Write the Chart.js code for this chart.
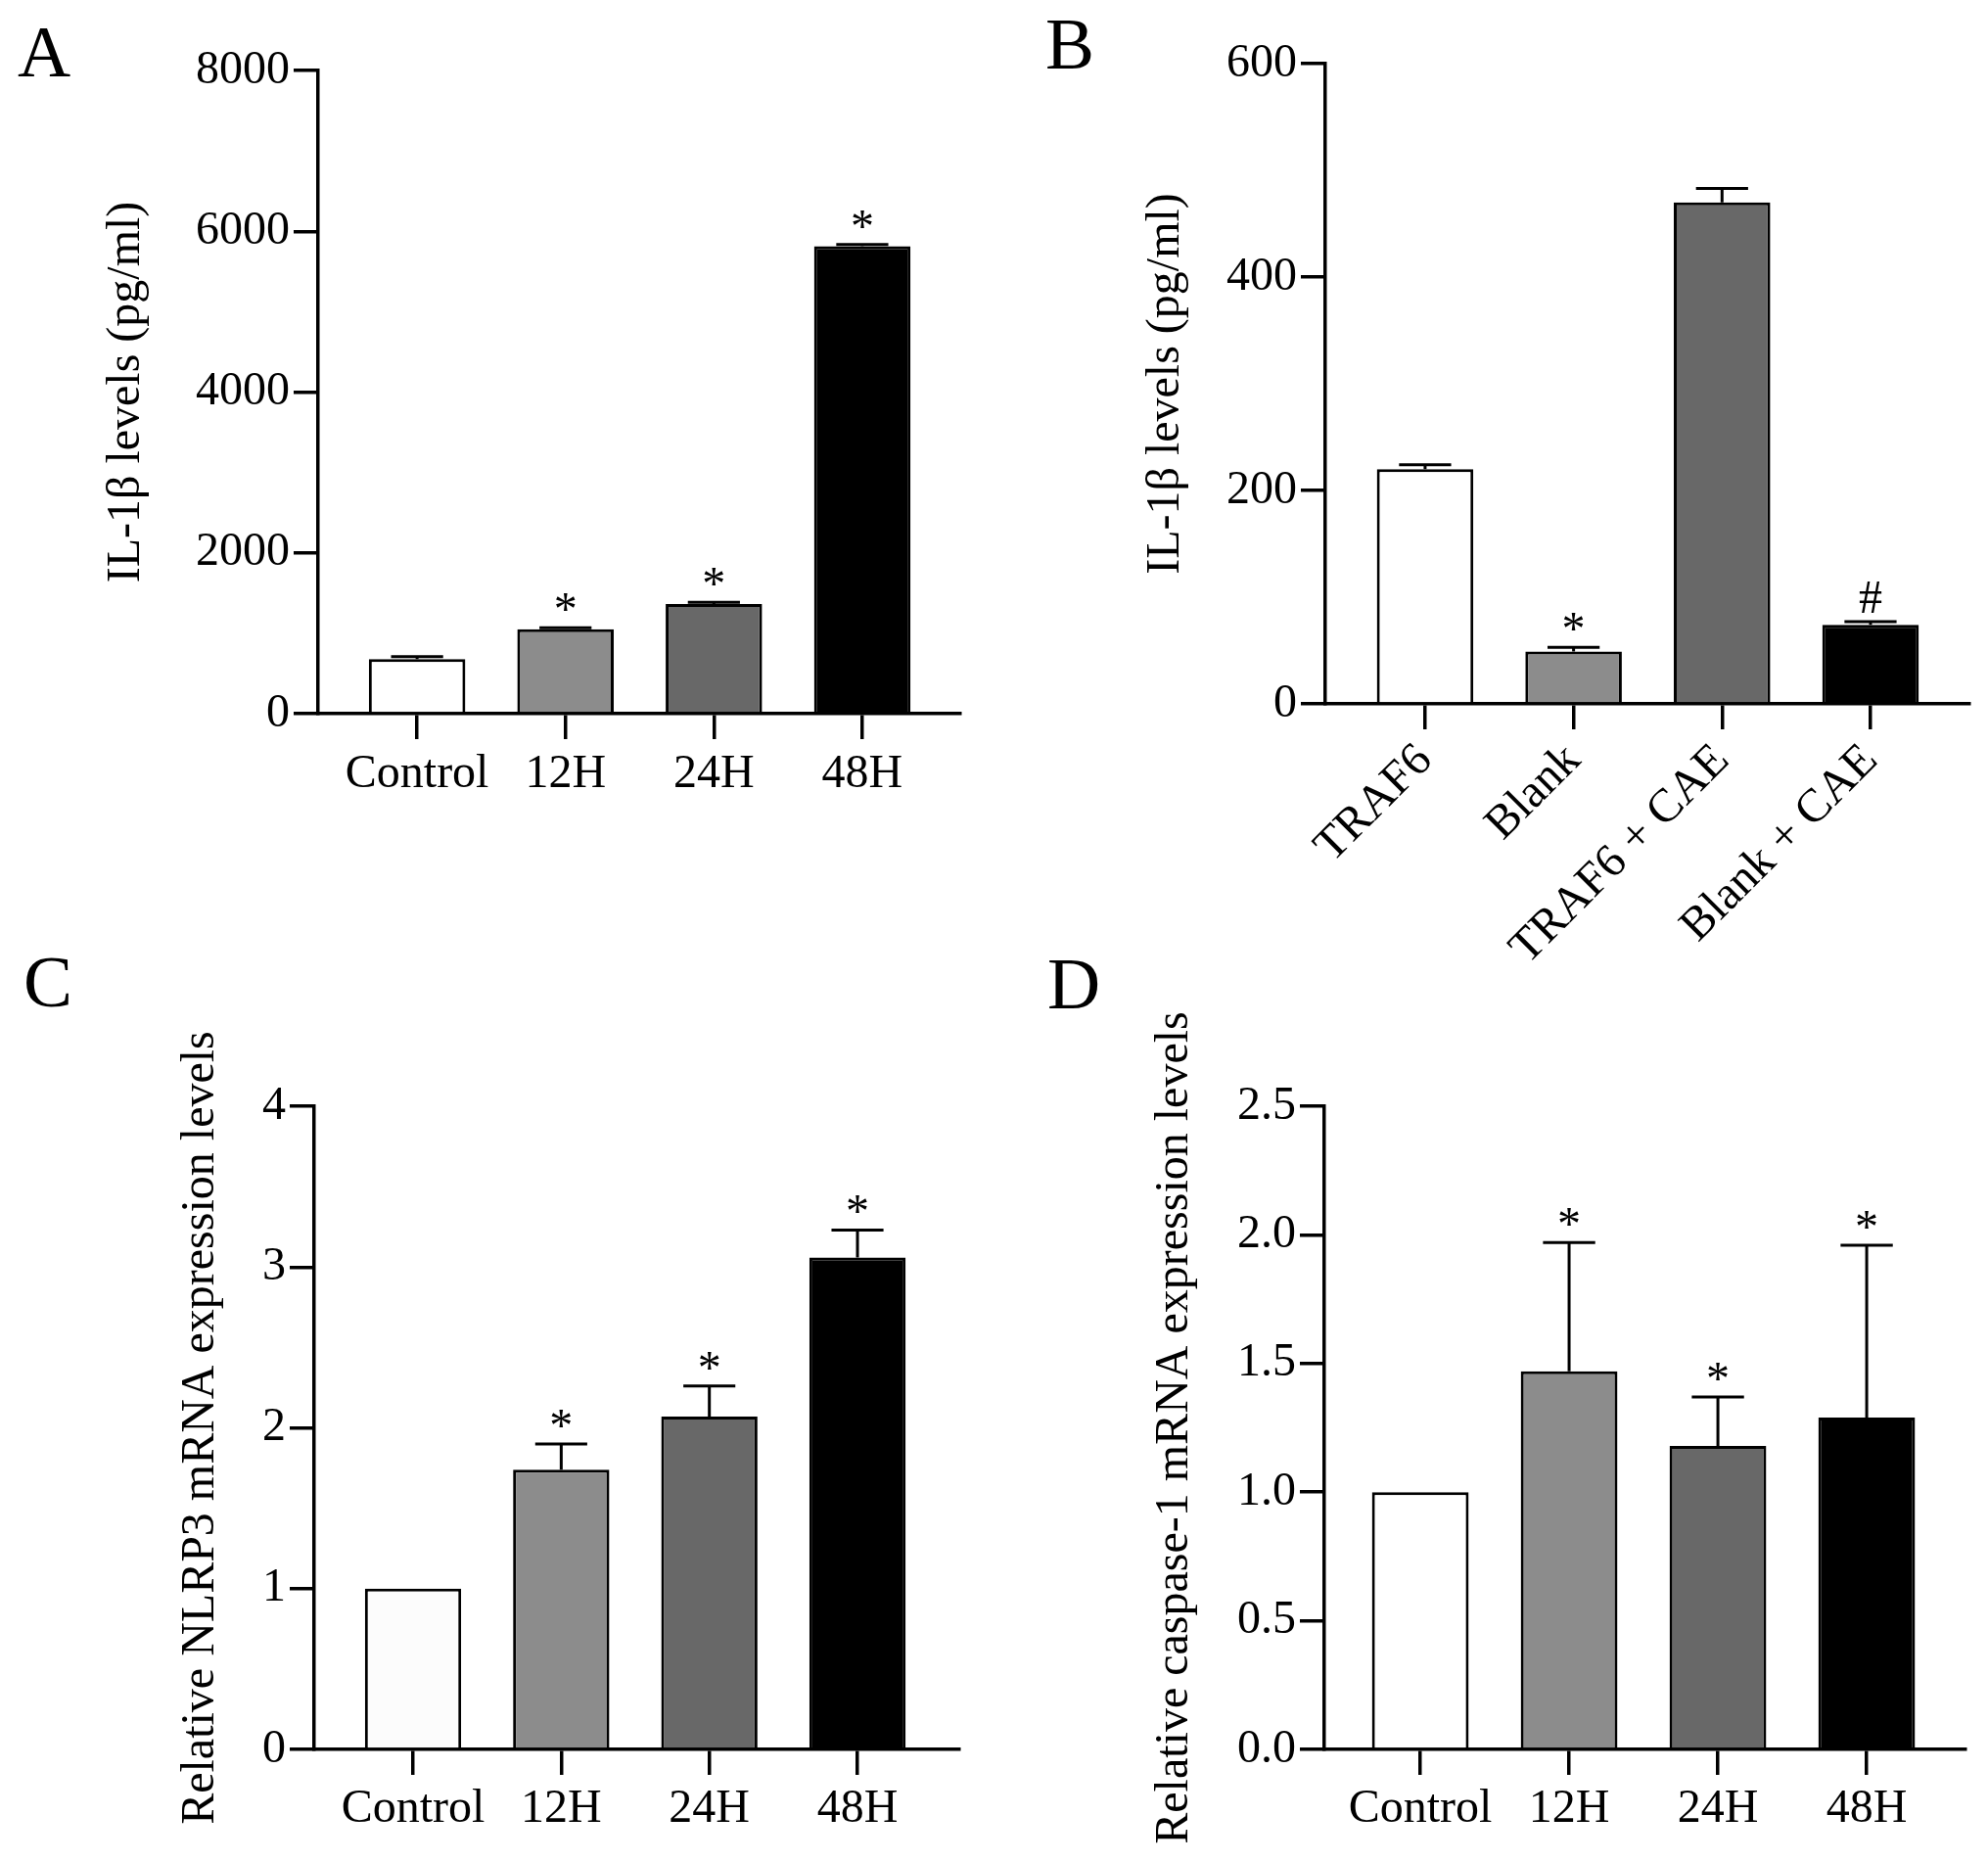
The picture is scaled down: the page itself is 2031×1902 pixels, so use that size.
<!DOCTYPE html>
<html>
<head>
<meta charset="utf-8">
<script src="https://cdn.jsdelivr.net/npm/chart.js@4.4.1/dist/chart.umd.min.js"></script>
<style>
  html, body { margin: 0; padding: 0; background: #fff; }
  body { width: 2031px; height: 1902px; position: relative; overflow: hidden; font-family: "Liberation Serif", serif; }
  canvas { position: absolute; }
  .letter { position: absolute; font-size: 75px; line-height: 1; color: #000; }
</style>
</head>
<body>
<div class="letter" style="left:18px;top:15px">A</div>
<div class="letter" style="left:1068px;top:7px">B</div>
<div class="letter" style="left:24px;top:965px">C</div>
<div class="letter" style="left:1070px;top:967px">D</div>

<canvas id="chart-b" style="left:1015px;top:0px" width="1016" height="1050"></canvas>
<canvas id="chart-a" style="left:0px;top:0px" width="1015" height="950"></canvas>
<canvas id="chart-c" style="left:0px;top:950px" width="1015" height="952"></canvas>
<canvas id="chart-d" style="left:1015px;top:950px" width="1016" height="952"></canvas>

<script>
// categories
const timeLabels = ['Control', '12H', '24H', '48H'];
const groupLabels = ['TRAF6', 'Blank', 'TRAF6 + CAE', 'Blank + CAE'];

// A: IL-1β over time
const il1bTime = [680, 1050, 1365, 5815];
const il1bTimeErr = [30, 20, 20, 20];
const il1bTimeMarks = ['', '*', '*', '*'];

// B: IL-1β by group
const il1bGroup = [220, 49, 470, 74];
const il1bGroupErr = [4, 4, 13, 3];
const il1bGroupMarks = ['', '*', '', '#'];

// C: NLRP3 mRNA
const nlrp3 = [1.0, 1.74, 2.07, 3.06];
const nlrp3Err = [0, 0.16, 0.19, 0.17];
const nlrp3Marks = ['', '*', '*', '*'];

// D: caspase-1 mRNA
const casp1 = [1.0, 1.47, 1.18, 1.29];
const casp1Err = [0, 0.50, 0.19, 0.67];
const casp1Marks = ['', '*', '*', '*'];

const fills = ['#ffffff', '#8c8c8c', '#686868', '#000000'];
const fillsC = ['#fcfcfc', '#8c8c8c', '#686868', '#000000'];

const FONT = { family: 'Liberation Serif', size: 48 };

const errorBarPlugin = {
    id: 'errorBars',
    afterDatasetsDraw(chart, args, opts) {
        const { ctx } = chart;
        const y = chart.scales.y;
        const meta = chart.getDatasetMeta(0);
        ctx.save();
        ctx.strokeStyle = '#000';
        ctx.fillStyle = '#000';
        ctx.lineWidth = 3;
        ctx.font = '48px "Liberation Serif"';
        ctx.textAlign = 'center';
        ctx.textBaseline = 'alphabetic';
        meta.data.forEach((bar, i) => {
            const v = opts.values[i];
            const e = opts.errors[i];
            const yBar = y.getPixelForValue(v);
            const yTop = y.getPixelForValue(v + e);
            const half = bar.width * 0.27;
            if (e > 0) {
                ctx.beginPath();
                ctx.moveTo(bar.x, yBar);
                ctx.lineTo(bar.x, yTop);
                ctx.moveTo(bar.x - half, yTop);
                ctx.lineTo(bar.x + half, yTop);
                ctx.stroke();
            }
            const mark = opts.marks[i];
            if (mark) ctx.fillText(mark, bar.x, yTop - (mark === '#' ? 9 : 3));
        });
        ctx.restore();
    }
};

function makePanel(id, cfg) {
    const ctx = document.getElementById(id).getContext('2d');
    const axisBorder = { display: true, color: '#000', width: 3.5 };
    return new Chart(ctx, {
        type: 'bar',
        data: {
            datasets: [{
                data: cfg.values.map((v, i) => ({ x: i + 1, y: v })),
                backgroundColor: cfg.fills,
                borderColor: '#000',
                borderWidth: 3,
                barPercentage: 0.65,
                categoryPercentage: 1
            }]
        },
        options: {
            responsive: false,
            animation: false,
            layout: { padding: cfg.padding },
            plugins: {
                legend: { display: false },
                tooltip: { enabled: false },
                errorBars: { values: cfg.values, errors: cfg.errors, marks: cfg.marks }
            },
            scales: {
                x: {
                    type: 'linear',
                    offset: false,
                    min: cfg.xMin,
                    max: cfg.xMax,
                    afterBuildTicks: s => { s.ticks = cfg.labels.map((_, i) => ({ value: i + 1 })); },
                    afterFit: s => { s.height = cfg.xHeight; },
                    ticks: {
                        autoSkip: false,
                        minRotation: cfg.rotation,
                        maxRotation: cfg.rotation,
                        padding: cfg.xPad,
                        color: '#000',
                        font: FONT,
                        callback: v => cfg.labels[v - 1]
                    },
                    grid: { offset: false, drawOnChartArea: false, drawTicks: true, tickLength: 26, color: '#000', lineWidth: 3.5 },
                    border: axisBorder
                },
                y: {
                    min: 0,
                    max: cfg.yMax,
                    afterFit: s => { s.width = cfg.yWidth; },
                    ticks: {
                        stepSize: cfg.yStep,
                        padding: 4,
                        color: '#000',
                        font: FONT,
                        callback: cfg.yFmt || (v => v)
                    },
                    grid: { drawOnChartArea: false, drawTicks: true, tickLength: 25, color: '#000', lineWidth: 3.5 },
                    border: axisBorder,
                    title: {
                        display: true,
                        text: cfg.yTitle,
                        color: '#000',
                        font: FONT,
                        padding: { top: cfg.titlePad, bottom: 0 }
                    }
                }
            }
        },
        plugins: [errorBarPlugin]
    });
}

window.onload = () => {
    makePanel('chart-a', {
        labels: timeLabels, values: il1bTime, errors: il1bTimeErr, marks: il1bTimeMarks, fills: fills,
        padding: { left: 0, top: 72, right: 34, bottom: 71 },
        yWidth: 325, xHeight: 150, titlePad: 101, xPad: 8, rotation: 0,
        xMin: 0.333, xMax: 4.66, yMax: 8000, yStep: 2000,
        yTitle: 'IL-1β levels (pg/ml)'
    });
    makePanel('chart-b', {
        labels: groupLabels, values: il1bGroup, errors: il1bGroupErr, marks: il1bGroupMarks, fills: fills,
        padding: { left: 0, top: 65, right: 19, bottom: 25 },
        yWidth: 339, xHeight: 306, titlePad: 148, xPad: 4, rotation: 45,
        xMin: 0.328, xMax: 4.666, yMax: 600, yStep: 200,
        yTitle: 'IL-1β levels (pg/ml)'
    });
    makePanel('chart-c', {
        labels: timeLabels, values: nlrp3, errors: nlrp3Err, marks: nlrp3Marks, fills: fillsC,
        padding: { left: 0, top: 180, right: 35, bottom: 15 },
        yWidth: 321, xHeight: 100, titlePad: 177, xPad: 7, rotation: 0,
        xMin: 0.3325, xMax: 4.687, yMax: 4, yStep: 1,
        yTitle: 'Relative NLRP3 mRNA expression levels'
    });
    makePanel('chart-d', {
        labels: timeLabels, values: casp1, errors: casp1Err, marks: casp1Marks, fills: fills,
        padding: { left: 0, top: 180, right: 23, bottom: 15 },
        yWidth: 338, xHeight: 100, titlePad: 157, xPad: 7, rotation: 0,
        xMin: 0.355, xMax: 4.664, yMax: 2.5, yStep: 0.5,
        yFmt: v => v.toFixed(1),
        yTitle: 'Relative caspase-1 mRNA expression levels'
    });
};
</script>
</body>
</html>
